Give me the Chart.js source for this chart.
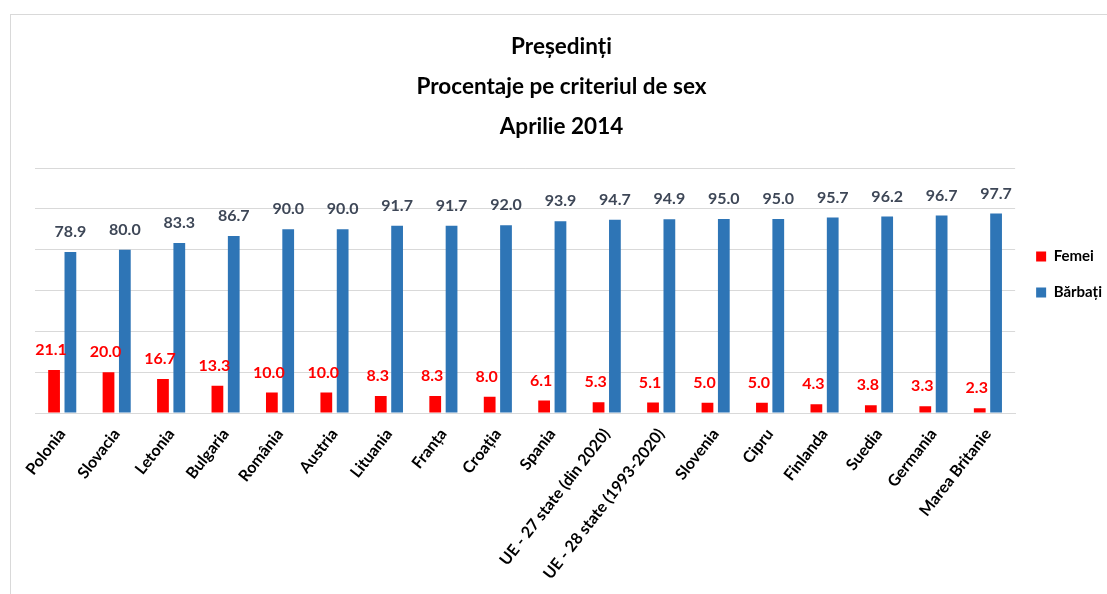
<!DOCTYPE html>
<html>
<head>
<meta charset="utf-8">
<script src="https://cdn.jsdelivr.net/npm/chart.js@4/dist/chart.umd.min.js"></script>
<style>
  html, body { margin: 0; padding: 0; background: #fff; overflow: hidden; }
  #frame { position: absolute; left: 10px; top: 14px; width: 1120px; height: 600px; border: 1px solid #d9d9d9; }
  #box { position: absolute; left: 11px; top: 15px; width: 1101px; height: 580px; }
</style>
</head>
<body>
<div id="frame"></div>
<div id="box"><canvas id="chart"></canvas></div>
<script>
// categories (countries / EU groups)
var countries = ["Polonia", "Slovacia", "Letonia", "Bulgaria", "România", "Austria", "Lituania", "Franța",
    "Croația", "Spania", "UE - 27 state (din 2020)", "UE - 28 state (1993-2020)", "Slovenia", "Cipru",
    "Finlanda", "Suedia", "Germania", "Marea Britanie"];

// share of women / men among presidents, %
var femei = [21.1, 20.0, 16.7, 13.3, 10.0, 10.0, 8.3, 8.3, 8.0, 6.1, 5.3, 5.1, 5.0, 5.0, 4.3, 3.8, 3.3, 2.3];
var barbati = [78.9, 80.0, 83.3, 86.7, 90.0, 90.0, 91.7, 91.7, 92.0, 93.9, 94.7, 94.9, 95.0, 95.0, 95.7, 96.2, 96.7, 97.7];

var titleLines = ["Președinți", "Procentaje pe criteriul de sex", "Aprilie 2014"];

var FONT = "Lato, 'Liberation Sans', sans-serif";

/* value labels above each bar */
var valueLabels = {
    id: "valueLabels",
    afterDatasetsDraw: function (chart) {
        var ctx = chart.ctx;
        ctx.save();
        ctx.font = "bold 16px " + FONT;
        ctx.textAlign = "center";
        ctx.textBaseline = "middle";
        chart.data.datasets.forEach(function (ds, i) {
            var meta = chart.getDatasetMeta(i);
            ctx.fillStyle = ds.labelColor;
            meta.data.forEach(function (bar, j) {
                ctx.fillText(ds.data[j].toFixed(1), bar.x + ds.labelShift, bar.y - 20);
            });
        });
        ctx.restore();
    }
};

new Chart(document.getElementById("chart"), {
    type: "bar",
    data: {
        labels: countries,
        datasets: [
            { label: "Femei", data: femei, backgroundColor: "#ff0000", labelColor: "#ff0000", labelShift: -3 },
            { label: "Bărbați", data: barbati, backgroundColor: "#2e75b6", labelColor: "#3e4757", labelShift: 0 }
        ]
    },
    options: {
        responsive: true,
        maintainAspectRatio: false,
        animation: false,
        layout: { padding: 0 },
        datasets: {
            bar: { categoryPercentage: 0.6, barPercentage: 0.72 }
        },
        plugins: {
            title: {
                display: true,
                text: titleLines,
                color: "#000",
                font: { family: FONT, size: 22.5, weight: "bold", lineHeight: 40 / 22.5 },
                padding: { top: 12, bottom: 21 }
            },
            legend: {
                position: "right",
                align: "start",
                // empty legend title only used to push the items down
                title: { display: true, text: " ", padding: { top: 201, bottom: 0 }, font: { size: 10 } },
                labels: {
                    boxWidth: 10,
                    boxHeight: 10,
                    padding: 21,
                    color: "#000",
                    font: { family: FONT, size: 15, weight: "bold" }
                }
            },
            tooltip: { enabled: false }
        },
        scales: {
            x: {
                grid: { display: false, drawTicks: false },
                border: { display: true, color: "#d9d9d9", width: 1 },
                ticks: {
                    autoSkip: false,
                    minRotation: 52,
                    maxRotation: 52,
                    padding: 12,
                    color: "#000",
                    font: { family: FONT, size: 16, weight: "bold" }
                },
                afterFit: function (scale) { scale.height = 182; }
            },
            y: {
                min: 0,
                max: 120,
                ticks: { display: false, stepSize: 20 },
                grid: { color: "#d9d9d9", drawTicks: false },
                border: { display: false },
                afterFit: function (scale) { scale.width = 24; }
            }
        }
    },
    plugins: [valueLabels]
});
</script>
</body>
</html>
